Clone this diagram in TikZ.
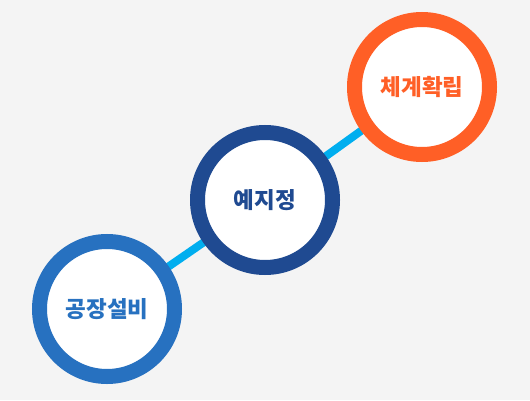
\documentclass[tikz,border=0pt]{standalone}
\usepackage{fontspec}
\newfontfamily\kr{Noto Sans CJK KR}
\usepackage{tikz}
\usetikzlibrary{backgrounds}
\definecolor{bgray}{HTML}{F4F4F4}
\definecolor{cblue}{HTML}{2771C0}
\definecolor{cnavy}{HTML}{1F4A91}
\definecolor{corange}{HTML}{FF5F26}
\definecolor{clink}{HTML}{00AEEF}

\begin{document}
\begin{tikzpicture}[x=1pt, y=1pt,
		stage/.style={draw, circle, fill=white, line width=15pt, minimum size=135pt, inner sep=0pt,
			font=\kr\bfseries\fontsize{22.5}{24}\selectfont},
		link/.style={draw=clink, line width=8pt}]
			\useasboundingbox (0,0) rectangle (530,400);
			
			\node[stage, draw=cblue, text=cblue] (s1) at (107,91) {공장설비};
			\node[stage, draw=cnavy, text=cnavy] (s2) at (265,200) {예지정};
			\node[stage, draw=corange, text=corange] (s3) at (422,313) {체계확립};
			
			\begin{pgfonlayer}{background}
				\fill[bgray] (0,0) rectangle (530,400);
				\draw[link] (s1.center) -- (s2.center);
				\draw[link] (s2.center) -- (s3.center);
			\end{pgfonlayer}

		\end{tikzpicture}
\end{document}
